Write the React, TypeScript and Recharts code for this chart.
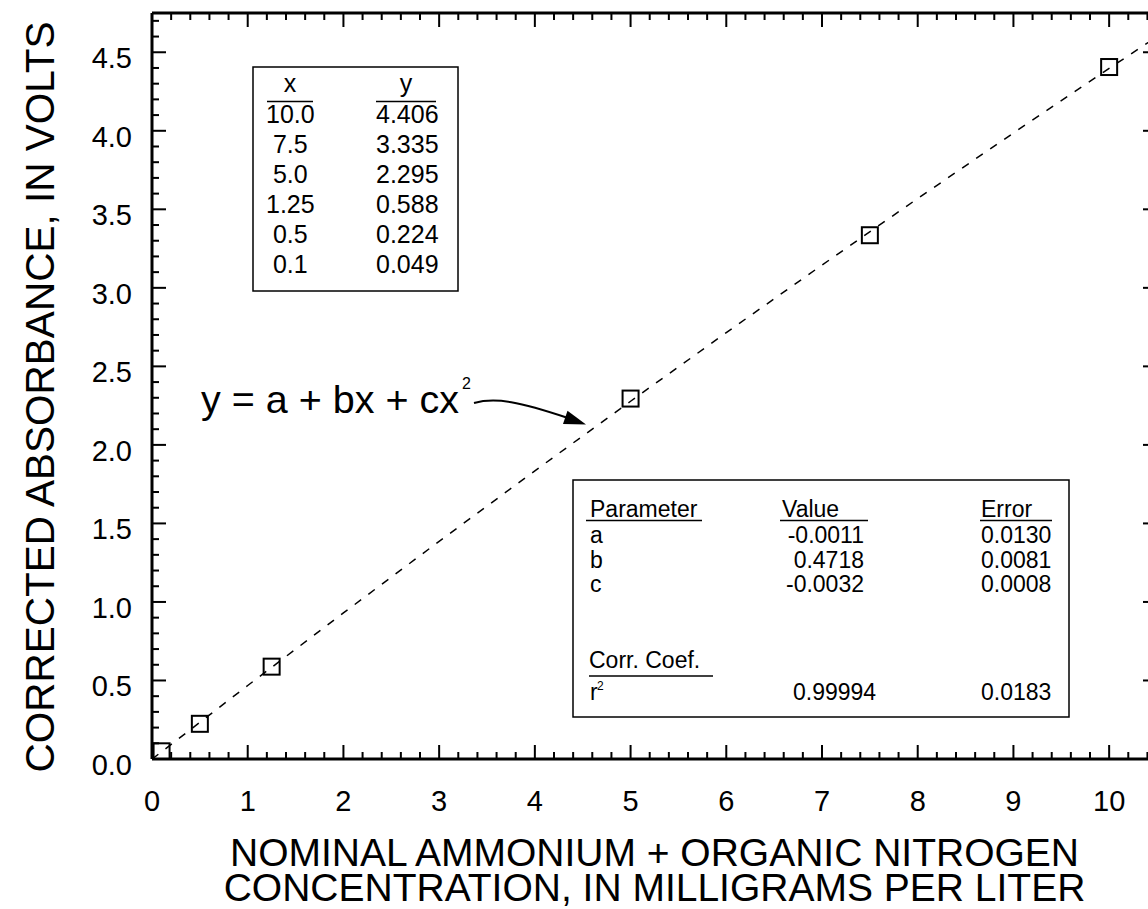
import React from 'react';
import { ComposedChart, Line, Scatter, XAxis, YAxis } from 'recharts';

// ---- data ----
const pointX = [10.0, 7.5, 5.0, 1.25, 0.5, 0.1];
const pointY = [4.406, 3.335, 2.295, 0.588, 0.224, 0.049];
const tableXLabels = ['10.0', ' 7.5', ' 5.0', '1.25', ' 0.5', ' 0.1'];
const tableYLabels = ['4.406', '3.335', '2.295', '0.588', '0.224', '0.049'];

// fitted curve
const fitX = [0, 1, 2, 3, 4, 5, 6, 7, 8, 9, 10, 10.5];
const fitY = [-0.001, 0.468, 0.930, 1.386, 1.835, 2.278, 2.715, 3.145, 3.569, 3.986, 4.397, 4.600];

const xTicks = [0, 0.2, 0.4, 0.6, 0.8, 1, 1.2, 1.4, 1.6, 1.8, 2, 2.2, 2.4, 2.6, 2.8, 3, 3.2, 3.4, 3.6, 3.8, 4, 4.2, 4.4, 4.6, 4.8, 5, 5.2, 5.4, 5.6, 5.8, 6, 6.2, 6.4, 6.6, 6.8, 7, 7.2, 7.4, 7.6, 7.8, 8, 8.2, 8.4, 8.6, 8.8, 9, 9.2, 9.4, 9.6, 9.8, 10, 10.2, 10.4];
const xMajor = [0, 1, 2, 3, 4, 5, 6, 7, 8, 9, 10];
const yTicks = [0, 0.1, 0.2, 0.3, 0.4, 0.5, 0.6, 0.7, 0.8, 0.9, 1, 1.1, 1.2, 1.3, 1.4, 1.5, 1.6, 1.7, 1.8, 1.9, 2, 2.1, 2.2, 2.3, 2.4, 2.5, 2.6, 2.7, 2.8, 2.9, 3, 3.1, 3.2, 3.3, 3.4, 3.5, 3.6, 3.7, 3.8, 3.9, 4, 4.1, 4.2, 4.3, 4.4, 4.5, 4.6, 4.7];
const yMajor = [0, 0.5, 1, 1.5, 2, 2.5, 3, 3.5, 4, 4.5];
const xDomain = [0, 10.5];
const yDomain = [0, 4.75];

const paramNames = ['a', 'b', 'c'];
const paramValues = ['-0.0011', '0.4718', '-0.0032'];
const paramErrors = ['0.0130', '0.0081', '0.0008'];
const r2Value = '0.99994';
const r2Error = '0.0183';

const xTitleLines = ['NOMINAL AMMONIUM + ORGANIC NITROGEN', 'CONCENTRATION, IN MILLIGRAMS PER LITER'];
const yTitle = 'CORRECTED ABSORBANCE, IN VOLTS';
const equationText = 'y = a + bx + cx';

const pointData = pointX.map((x, i) => ({ x, y: pointY[i] }));
const fitData = fitX.map((x, i) => ({ x, y: fitY[i] }));

// ---- layout ----
const CHART_W = 1170;
const CHART_H = 909;
const M_TOP = 12;
const M_RIGHT = 12;
const X_AXIS_H = 150;
const Y_AXIS_W = 152;
const PLOT_LEFT = Y_AXIS_W;
const PLOT_RIGHT = CHART_W - M_RIGHT - 1;
const PLOT_TOP = M_TOP + 1;
const PLOT_BOTTOM = CHART_H - X_AXIS_H;

const FONT = '"Liberation Sans", Arial, Helvetica, sans-serif';
const TICK_FONT = 29;
const MAJOR_LEN = 14;
const MINOR_LEN = 7;
const TW = 2;

const renderBottomTick = (props: any) => {
  const { x, y, payload } = props;
  const v = payload.value;
  if (!xMajor.includes(v)) return <g />;
  return (
    <text x={x} y={y + 52} textAnchor="middle" fontSize={TICK_FONT} fontFamily={FONT} fill="#000">
      {String(v)}
    </text>
  );
};

const renderTopTick = (props: any) => {
  const { x, y, payload } = props;
  const len = xMajor.includes(payload.value) ? MAJOR_LEN : MINOR_LEN;
  return <rect x={x - TW / 2} y={y} width={TW} height={len} fill="#000" />;
};

const renderLeftTick = (props: any) => {
  const { x, y, payload } = props;
  const v = payload.value;
  if (!yMajor.includes(v)) return <g />;
  return (
    <text x={x - 20} y={y + 16} textAnchor="end" fontSize={TICK_FONT} fontFamily={FONT} fill="#000">
      {v.toFixed(1)}
    </text>
  );
};

const renderRightTick = (props: any) => {
  const { x, y, payload } = props;
  const len = yMajor.includes(payload.value) ? MAJOR_LEN : MINOR_LEN;
  return <rect x={x - len} y={y - TW / 2} width={len} height={TW} fill="#000" />;
};

const SquareMarker = (props: any) => {
  const { cx, cy } = props;
  return <rect x={cx - 8} y={cy - 8} width={16} height={16} fill="none" stroke="#000" strokeWidth={2} />;
};

// linear mapping of the frame (same domains/ranges as the chart axes) for the left/bottom inward ticks
const xPix = (v: number) => PLOT_LEFT + ((v - xDomain[0]) / (xDomain[1] - xDomain[0])) * (PLOT_RIGHT - PLOT_LEFT);
const yPix = (v: number) => PLOT_BOTTOM - ((v - yDomain[0]) / (yDomain[1] - yDomain[0])) * (PLOT_BOTTOM - PLOT_TOP);

const T1_FONT = 25;
const T2_FONT = 23;

const Annotations = () => (
  <svg width={1148} height={909} style={{ position: 'absolute', left: 0, top: 0, pointerEvents: 'none', overflow: 'visible' }}>
    <g>
      {xTicks.map((v) => {
        const len = xMajor.includes(v) ? MAJOR_LEN : MINOR_LEN;
        return <rect key={'bt' + v} x={xPix(v) - TW / 2} y={PLOT_BOTTOM - len} width={TW} height={len} fill="#000" />;
      })}
      {yTicks.map((v) => {
        const len = yMajor.includes(v) ? MAJOR_LEN : MINOR_LEN;
        return <rect key={'lt' + v} x={PLOT_LEFT} y={yPix(v) - TW / 2} width={len} height={TW} fill="#000" />;
      })}
    </g>
    <g fontFamily={FONT} fill="#000">
      <text textAnchor="middle" fontSize={39}>
        {xTitleLines.map((t, i) => (
          <tspan key={t} x={654.5} y={866 + i * 35}>{t}</tspan>
        ))}
      </text>
      <text x={54} y={397} textAnchor="middle" fontSize={40.5} transform="rotate(-90, 54, 397)">{yTitle}</text>

      <rect x={253} y={67} width={205} height={224} fill="#fff" stroke="#000" strokeWidth={1.5} />
      <text x={290} y={92} textAnchor="middle" fontSize={T1_FONT}>x</text>
      <text x={406} y={92} textAnchor="middle" fontSize={T1_FONT}>y</text>
      <line x1={267} y1={101.5} x2={313} y2={101.5} stroke="#000" strokeWidth={1.5} />
      <line x1={376} y1={101.5} x2={436} y2={101.5} stroke="#000" strokeWidth={1.5} />
      {tableXLabels.map((t, i) => (
        <text key={'tx' + i} x={266} y={123 + i * 30} fontSize={T1_FONT} style={{ whiteSpace: 'pre' }}>{t}</text>
      ))}
      {tableYLabels.map((t, i) => (
        <text key={'ty' + i} x={376} y={123 + i * 30} fontSize={T1_FONT}>{t}</text>
      ))}

      <text x={201} y={413} fontSize={39.5}>{equationText}</text>
      <text x={462} y={389} fontSize={16}>2</text>
      <path d="M 474 403 C 496 397, 520 402, 568 418" fill="none" stroke="#000" strokeWidth={2} />
      <polygon points="586,424.5 563,424 567.5,410.7" fill="#000" />

      <rect x={573} y={480} width={496} height={237} fill="#fff" stroke="#000" strokeWidth={1.5} />
      <text x={590} y={517} fontSize={T2_FONT}>Parameter</text>
      <line x1={586} y1={520.5} x2={702} y2={520.5} stroke="#000" strokeWidth={1.5} />
      <text x={782} y={517} fontSize={T2_FONT}>Value</text>
      <line x1={780} y1={520.5} x2={868} y2={520.5} stroke="#000" strokeWidth={1.5} />
      <text x={981} y={517} fontSize={T2_FONT}>Error</text>
      <line x1={980} y1={520.5} x2={1052} y2={520.5} stroke="#000" strokeWidth={1.5} />
      {paramNames.map((t, i) => (
        <text key={'pn' + i} x={590} y={543 + i * 24.5} fontSize={T2_FONT}>{t}</text>
      ))}
      {paramValues.map((t, i) => (
        <text key={'pv' + i} x={864} y={543 + i * 24.5} textAnchor="end" fontSize={T2_FONT}>{t}</text>
      ))}
      {paramErrors.map((t, i) => (
        <text key={'pe' + i} x={981} y={543 + i * 24.5} fontSize={T2_FONT}>{t}</text>
      ))}
      <text x={589} y={668} fontSize={T2_FONT}>Corr. Coef.</text>
      <line x1={589} y1={676} x2={713} y2={676} stroke="#000" strokeWidth={1.5} />
      <text x={590} y={700} fontSize={T2_FONT}>r</text>
      <text x={597} y={690} fontSize={12}>2</text>
      <text x={793} y={700} fontSize={T2_FONT}>{r2Value}</text>
      <text x={981} y={700} fontSize={T2_FONT}>{r2Error}</text>
    </g>
  </svg>
);

export default function App() {
  return (
    <div style={{ position: 'fixed', left: 0, top: 0, width: 1148, height: 909, overflow: 'hidden', background: '#fff' }}>
      <ComposedChart width={CHART_W} height={CHART_H} margin={{ top: M_TOP, right: M_RIGHT, bottom: 0, left: 0 }}>
        <XAxis
          xAxisId="b" orientation="bottom" type="number" dataKey="x" domain={xDomain} ticks={xTicks}
          interval={0} tickSize={0} tickMargin={0} tickLine={false} height={X_AXIS_H} allowDataOverflow
          axisLine={{ stroke: '#000', strokeWidth: 3 }} tick={renderBottomTick}
        />
        <XAxis
          xAxisId="t" orientation="top" type="number" dataKey="x" domain={xDomain} ticks={xTicks}
          interval={0} tickSize={0} tickMargin={0} tickLine={false} height={1} allowDataOverflow
          axisLine={{ stroke: '#000', strokeWidth: 3 }} tick={renderTopTick}
        />
        <YAxis
          yAxisId="l" orientation="left" type="number" domain={yDomain} ticks={yTicks}
          interval={0} tickSize={0} tickMargin={0} tickLine={false} width={Y_AXIS_W} allowDataOverflow
          axisLine={{ stroke: '#000', strokeWidth: 3 }} tick={renderLeftTick}
        />
        <YAxis
          yAxisId="r" orientation="right" type="number" domain={yDomain} ticks={yTicks}
          interval={0} tickSize={0} tickMargin={0} tickLine={false} width={1} allowDataOverflow
          axisLine={{ stroke: '#000', strokeWidth: 3 }} tick={renderRightTick}
        />
        <Line
          xAxisId="b" yAxisId="l" data={fitData} dataKey="y" type="linear" stroke="#000"
          strokeWidth={1.5} strokeDasharray="8 9" dot={false} activeDot={false} isAnimationActive={false}
        />
        <Line
          xAxisId="t" yAxisId="r" data={fitData} dataKey="y" stroke="none" dot={false}
          activeDot={false} isAnimationActive={false} legendType="none"
        />
        <Scatter
          xAxisId="b" yAxisId="l" data={pointData} dataKey="y" shape={<SquareMarker />} isAnimationActive={false}
        />
      </ComposedChart>
      <Annotations />
    </div>
  );
}
